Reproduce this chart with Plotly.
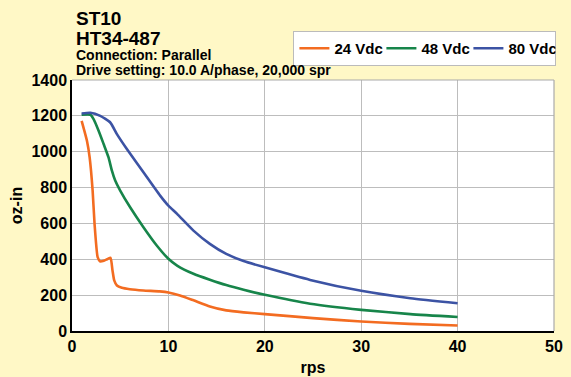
import plotly.graph_objects as go

# ---- data ----
rps_24 = [1.0, 1.55, 1.83, 2.14, 2.34, 2.66, 2.93, 3.3, 3.7, 4.0, 4.2, 4.38, 4.66, 5.17, 6.0, 7.4, 9.1, 10.0, 11.2, 12.6, 14.3, 16.0, 17.8, 20, 25, 30, 35, 40]
torque_24 = [1172, 1061, 968, 783, 597, 412, 388, 392, 402, 408, 338, 282, 254, 241, 233, 226, 221, 215, 198, 171, 137, 115, 104, 94, 72, 53, 40, 31]

rps_48 = [1.0, 1.9, 2.24, 2.76, 3.28, 3.79, 4.14, 4.48, 5.0, 6.03, 7.41, 8.79, 10.0, 10.9, 12.6, 14.3, 16.0, 17.8, 20, 24.7, 30, 35.1, 40]
torque_48 = [1206, 1206, 1182, 1117, 1043, 968, 894, 839, 783, 690, 579, 477, 403, 365, 319, 286, 256, 230, 202, 152, 118, 94, 78]

rps_80 = [1.0, 1.9, 2.93, 3.97, 4.66, 5.69, 7.41, 9.14, 10.0, 10.9, 12.6, 14.3, 16.0, 17.8, 20, 24.7, 30, 35.1, 40]
torque_80 = [1213, 1217, 1200, 1163, 1098, 1015, 885, 755, 699, 653, 560, 486, 430, 390, 355, 285, 224, 183, 155]

series_names = ["24 Vdc", "48 Vdc", "80 Vdc"]
series_colors = ["#F36C21", "#17854A", "#3C53A4"]

title_lines = ["ST10", "HT34-487", "Connection: Parallel", "Drive setting: 10.0 A/phase, 20,000 spr"]
x_title = "rps"
y_title = "oz-in"

FONT = "Liberation Sans, Arial, sans-serif"
BG = "#FFF8C6"

fig = go.Figure()
for xs, ys, name, col in zip([rps_24, rps_48, rps_80], [torque_24, torque_48, torque_80],
                             series_names, series_colors):
    fig.add_trace(go.Scatter(x=xs, y=ys, name=name, mode="lines",
                             line=dict(color=col, width=2.6, shape="spline", smoothing=0.5)))

fig.update_layout(
    width=571, height=377,
    paper_bgcolor=BG, plot_bgcolor="white",
    margin=dict(l=72, r=17, t=80, b=46, autoexpand=False),
    font=dict(family=FONT, size=16, color="black"),
    showlegend=True,
    legend=dict(orientation="h", x=1.005, xanchor="right", y=1.195, yanchor="top",
                bgcolor="white", bordercolor="#BBBBBB", borderwidth=1,
                font=dict(family=FONT, size=15, color="black", weight="bold"),
                itemwidth=30, tracegroupgap=0, entrywidth=42),
    xaxis=dict(range=[0, 50], dtick=10, tick0=0, showgrid=True, gridcolor="#BDBDBD", gridwidth=1,
               showline=True, linecolor="black", linewidth=1.5, zeroline=False,
               tickfont=dict(family=FONT, size=16, weight="bold"), automargin=False,
               title=dict(text=x_title, font=dict(family=FONT, size=16, weight="bold"), standoff=8),
               ticks="", fixedrange=True),
    yaxis=dict(range=[0, 1400], dtick=200, tick0=0, showgrid=True, gridcolor="#BDBDBD", gridwidth=1,
               showline=True, linecolor="black", linewidth=1.5, zeroline=False,
               tickfont=dict(family=FONT, size=16, weight="bold"), automargin=False,
               title=dict(text=y_title, font=dict(family=FONT, size=16, weight="bold"), standoff=5),
               ticks="", fixedrange=True),
)

# gray border on top and right of plot area
fig.add_shape(type="line", xref="paper", yref="paper", x0=0, x1=1, y0=1, y1=1,
              line=dict(color="#AAAAAA", width=1.2))
fig.add_shape(type="line", xref="paper", yref="paper", x0=1, x1=1, y0=0, y1=1,
              line=dict(color="#AAAAAA", width=1.2))

# title block
title_y = [18.5, 38.5, 55, 69.5]
title_sizes = [19, 19, 14, 14]
for txt, yp, sz in zip(title_lines, title_y, title_sizes):
    fig.add_annotation(text="<b>%s</b>" % txt, xref="paper", yref="paper",
                       x=(74 - 72) / 482, xanchor="left",
                       y=(331 - yp) / 251, yanchor="middle",
                       showarrow=False, font=dict(family=FONT, size=sz, color="black"))

fig.write_html("out.html", config={"displayModeBar": False},
               post_script="document.body.style.margin='0';document.body.style.background='%s';" % BG)
